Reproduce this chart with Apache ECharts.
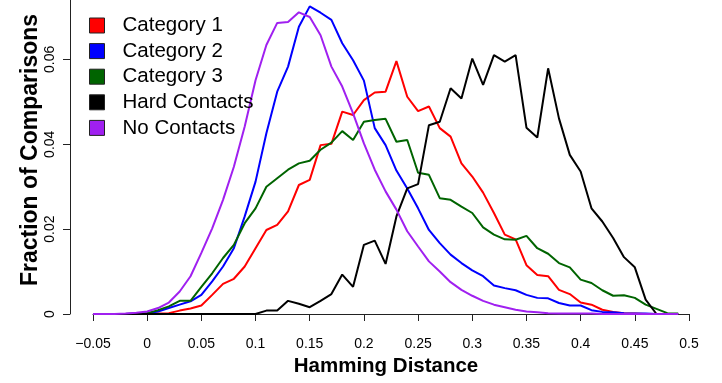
<!DOCTYPE html>
<html>
<head>
<meta charset="utf-8">
<script src="https://cdn.jsdelivr.net/npm/echarts@6/dist/echarts.min.js"></script>
<style>
  html, body { margin: 0; padding: 0; background: #fff; }
  #chart { width: 722px; height: 383px; }
</style>
</head>
<body>
<div id="chart"></div>
<script>
window.addEventListener('load', function() {
// hamming distance bins
var xs = [-0.05, -0.04, -0.03, -0.02, -0.01,
  0.00, 0.01, 0.02, 0.03, 0.04, 0.05, 0.06, 0.07, 0.08, 0.09,
  0.10, 0.11, 0.12, 0.13, 0.14, 0.15, 0.16, 0.17, 0.18, 0.19,
  0.20, 0.21, 0.22, 0.23, 0.24, 0.25, 0.26, 0.27, 0.28, 0.29,
  0.30, 0.31, 0.32, 0.33, 0.34, 0.35, 0.36, 0.37, 0.38, 0.39,
  0.40, 0.41, 0.42, 0.43, 0.44, 0.45, 0.46, 0.47, 0.48, 0.49];

var names = ['Category 1', 'Category 2', 'Category 3', 'Hard Contacts', 'No Contacts'];
var colors = ['#ff0000', '#0000ff', '#006400', '#000000', '#a020f0'];

var cat1 = [0, 0, 0, 0, 0,
  0, 0.0001, 0.0002, 0.0008, 0.0013, 0.0020, 0.0045, 0.0071, 0.0083, 0.0112,
  0.0155, 0.0198, 0.0210, 0.0242, 0.0304, 0.0316, 0.0398, 0.0401, 0.0477, 0.0469,
  0.0504, 0.0522, 0.0524, 0.0596, 0.0512, 0.0478, 0.0489, 0.0438, 0.0418, 0.0355,
  0.0324, 0.0286, 0.0238, 0.0187, 0.0176, 0.0115, 0.0092, 0.0089, 0.0057, 0.0047,
  0.0027, 0.0022, 0.0010, 0.0005, 0.0002, 0.0001, 0, 0, 0, 0];

var cat2 = [0, 0, 0, 0, 0.0001,
  0.0002, 0.0006, 0.0014, 0.0022, 0.0030, 0.0045, 0.0077, 0.0112, 0.0155, 0.0230,
  0.0312, 0.0426, 0.0524, 0.0583, 0.0677, 0.0725, 0.0710, 0.0693, 0.0638, 0.0598,
  0.0550, 0.0438, 0.0398, 0.0338, 0.0296, 0.0249, 0.0198, 0.0167, 0.0140, 0.0120,
  0.0103, 0.0089, 0.0067, 0.0061, 0.0056, 0.0045, 0.0038, 0.0037, 0.0026, 0.0020,
  0.0020, 0.0009, 0.0005, 0.0004, 0.0002, 0.0001, 0.0001, 0, 0, 0];

var cat3 = [0, 0, 0, 0, 0.0001,
  0.0002, 0.0009, 0.0018, 0.0031, 0.0031, 0.0064, 0.0096, 0.0132, 0.0163, 0.0214,
  0.0249, 0.0300, 0.0320, 0.0340, 0.0355, 0.0361, 0.0387, 0.0404, 0.0431, 0.0410,
  0.0453, 0.0457, 0.0460, 0.0406, 0.0410, 0.0333, 0.0328, 0.0273, 0.0269, 0.0253,
  0.0238, 0.0204, 0.0187, 0.0176, 0.0175, 0.0184, 0.0155, 0.0142, 0.0120, 0.0110,
  0.0081, 0.0073, 0.0056, 0.0043, 0.0044, 0.0038, 0.0022, 0.0012, 0.0002, 0.0001];

var hard = [0, 0, 0, 0, 0,
  0, 0, 0, 0, 0, 0, 0, 0, 0, 0,
  0, 0.0008, 0.0008, 0.0031, 0.0024, 0.0016, 0.0031, 0.0047, 0.0093, 0.0064,
  0.0163, 0.0173, 0.0118, 0.0230, 0.0296, 0.0306, 0.0445, 0.0453, 0.0532, 0.0508,
  0.0602, 0.0540, 0.0610, 0.0595, 0.0610, 0.0439, 0.0416, 0.0579, 0.0461, 0.0375,
  0.0336, 0.0249, 0.0218, 0.0179, 0.0134, 0.0110, 0.0034, 0, 0, 0];

var none = [0, 0, 0, 0.0001, 0.0003,
  0.0006, 0.0014, 0.0027, 0.0053, 0.0089, 0.0144, 0.0202, 0.0269, 0.0347, 0.0442,
  0.0551, 0.0634, 0.0686, 0.0688, 0.0711, 0.0700, 0.0657, 0.0583, 0.0536, 0.0473,
  0.0402, 0.0340, 0.0289, 0.0246, 0.0195, 0.0159, 0.0124, 0.0100, 0.0075, 0.0057,
  0.0043, 0.0031, 0.0022, 0.0016, 0.0010, 0.0006, 0.0004, 0.0002, 0.0001, 0.0001,
  0.0001, 0.0001, 0, 0, 0, 0, 0, 0, 0, 0];

var yTicks = [0, 0.02, 0.04, 0.06];
var yMax = 0.074;

var allSeries = [cat1, cat2, cat3, hard, none];
var font = 'Liberation Sans, Arial, Helvetica, sans-serif';

var series = [];
for (var i = 0; i < allSeries.length; i++) {
  var pts = [];
  for (var j = 0; j < xs.length; j++) {
    pts.push([xs[j], allSeries[i][j]]);
  }
  series.push({
    name: names[i],
    type: 'line',
    xAxisIndex: 0,
    yAxisIndex: 0,
    data: pts,
    symbol: 'none',
    color: colors[i],
    lineStyle: { color: colors[i], width: 2 },
    itemStyle: { color: colors[i] }
  });
}

var chart = echarts.init(document.getElementById('chart'), null, { renderer: 'canvas' });

var option = {
  animation: false,
  backgroundColor: '#ffffff',
  textStyle: { fontFamily: font },
  grid: [
    // plot area
    { left: 93, right: 33, top: 0, bottom: 69, containLabel: false, outerBoundsMode: 'none' },
    // narrow grid that only carries the y axis, set off to the left like R does
    { left: 70, width: 10, top: 0, bottom: 69, containLabel: false, outerBoundsMode: 'none' }
  ],
  legend: {
    orient: 'vertical',
    left: 89,
    top: 15,
    padding: 0,
    icon: 'rect',
    itemWidth: 15,
    itemHeight: 15,
    itemGap: 4.6,
    data: names,
    itemStyle: { borderColor: '#222', borderWidth: 1 },
    textStyle: {
      fontFamily: font,
      fontSize: 20.5,
      lineHeight: 20,
      color: '#000',
      padding: [0, 0, 0, 13]
    }
  },
  xAxis: [{
    type: 'value',
    gridIndex: 0,
    min: -0.05,
    max: 0.5,
    interval: 0.05,
    offset: 12,
    name: 'Hamming Distance',
    nameLocation: 'middle',
    nameGap: 28,
    nameTextStyle: {
      fontFamily: font,
      fontSize: 20.5,
      fontWeight: 'bold',
      color: '#000',
      padding: [0, 10, 0, 0]
    },
    axisLine: { show: true, lineStyle: { color: '#222', width: 1 } },
    axisTick: { show: true, length: 7, inside: false, lineStyle: { color: '#222', width: 1 } },
    axisLabel: {
      margin: 11,
      fontFamily: font,
      fontSize: 14,
      color: '#000',
      formatter: function(v) {
        var s = String(Math.round(v * 100) / 100);
        return s.replace('-', '\u2212');
      }
    },
    splitLine: { show: false }
  }, {
    type: 'value',
    gridIndex: 1,
    min: 0,
    max: 1,
    show: false
  }],
  yAxis: [{
    type: 'value',
    gridIndex: 0,
    min: 0,
    max: yMax,
    show: false,
    splitLine: { show: false }
  }, {
    type: 'value',
    gridIndex: 1,
    position: 'left',
    min: 0,
    max: yMax,
    name: 'Fraction of Comparisons',
    nameLocation: 'middle',
    nameGap: 22,
    nameTextStyle: {
      fontFamily: font,
      fontSize: 23,
      fontWeight: 'bold',
      color: '#000',
      padding: [0, 0, 0, 14]
    },
    axisLine: { show: true, lineStyle: { color: '#222', width: 1 } },
    axisTick: { show: true, length: 7, inside: false, customValues: yTicks, lineStyle: { color: '#222', width: 1 } },
    axisLabel: {
      rotate: 90,
      margin: 13,
      fontFamily: font,
      fontSize: 14,
      color: '#000',
      customValues: yTicks,
      formatter: function(v) { return String(Math.round(v * 100) / 100); }
    },
    splitLine: { show: false }
  }],
  series: series
};

chart.setOption(option);
});
</script>
</body>
</html>
